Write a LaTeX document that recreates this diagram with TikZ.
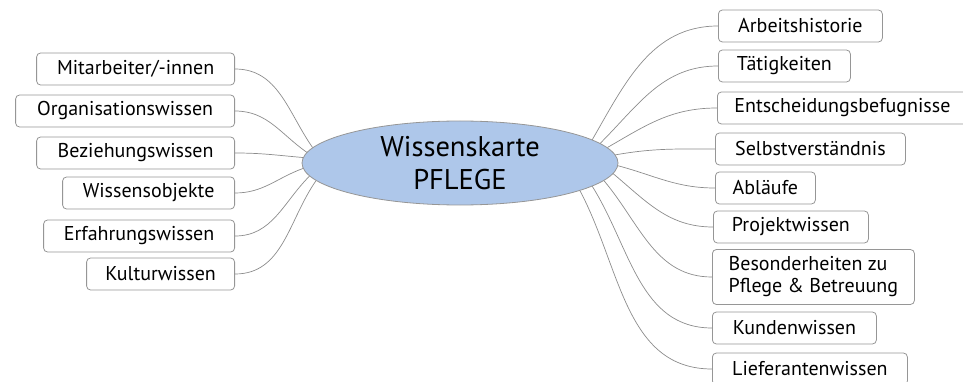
\documentclass[tikz,border=0pt]{standalone}
\usepackage{fontspec}
\setmainfont{PT Sans}
\usetikzlibrary{shapes.geometric}
\definecolor{kartenblau}{RGB}{174,199,234}
\definecolor{randgrau}{RGB}{150,150,150}
\definecolor{astgrau}{RGB}{140,140,140}
\tikzset{
  leaf/.style={draw=randgrau, line width=0.8pt, rounded corners=4pt,
    fill=white, minimum height=32pt, minimum width=#1, inner sep=2pt,
    font=\fontsize{20}{22}\selectfont},
  ast/.style={draw=astgrau, line width=0.7pt},
}

\begin{document}
\begin{tikzpicture}[x=1pt,y=1pt]
\useasboundingbox (0,0) rectangle (963,-382);
% Mitte
\node[ellipse, draw=randgrau, line width=0.8pt, fill=kartenblau,
  minimum width=316pt, minimum height=84pt, inner sep=0pt, align=center,
  font=\fontsize{28.5}{33}\selectfont] (karte) at (460,-163)
  {Wissenskarte\\PFLEGE};
% links
\node[leaf=198pt, anchor=east] (mitarb) at (235,-69) {Mitarbeiter/-innen};
\node[leaf=219pt, anchor=east] (orga) at (235,-111) {Organisationswissen};
\node[leaf=198pt, anchor=east] (bezieh) at (235,-153) {Beziehungswissen};
\node[leaf=172pt, anchor=east] (objekte) at (235,-193) {Wissensobjekte};
\node[leaf=191pt, anchor=east] (erfahr) at (235,-236) {Erfahrungswissen};
\node[leaf=148pt, anchor=east] (kultur) at (235,-274) {Kulturwissen};
% rechts
\node[leaf=164pt, anchor=west] (historie) at (718,-26) {Arbeitshistorie};
\node[leaf=132pt, anchor=west] (taetig) at (718,-66) {Tätigkeiten};
\node[leaf=250pt, anchor=west] (befugnis) at (717,-108) {Entscheidungsbefugnisse};
\node[leaf=190pt, anchor=west] (selbst) at (715,-149) {Selbstverständnis};
\node[leaf=100pt, anchor=west] (ablauf) at (715,-188) {Abläufe};
\node[leaf=155pt, anchor=west] (projekt) at (713,-227) {Projektwissen};
\node[leaf=202pt, anchor=west, minimum height=55pt, align=left]
  (besonder) at (712,-277) {Besonderheiten zu\\Pflege \& Betreuung};
\node[leaf=164pt, anchor=west] (kunden) at (712,-328) {Kundenwissen};
\node[leaf=195pt, anchor=west] (liefer) at (712,-369) {Lieferantenwissen};
% Aeste links
\draw[ast] (karte.174) to[out=125,in=0] (mitarb.east);
\draw[ast] (karte.176) to[out=145,in=0] (orga.east);
\draw[ast] (karte.178) to[out=175,in=0] (bezieh.east);
\draw[ast] (karte.182) to[out=200,in=0] (objekte.east);
\draw[ast] (karte.185) to[out=225,in=0] (erfahr.east);
\draw[ast] (karte.187) to[out=235,in=0] (kultur.east);
% Aeste rechts
\draw[ast] (karte.10) to[out=60,in=180] (historie.west);
\draw[ast] (karte.8) to[out=45,in=180] (taetig.west);
\draw[ast] (karte.6) to[out=30,in=180] (befugnis.west);
\draw[ast] (karte.3) to[out=10,in=180] (selbst.west);
\draw[ast] (karte.-1) to[out=-15,in=180] (ablauf.west);
\draw[ast] (karte.-4) to[out=-40,in=180] (projekt.west);
\draw[ast] (karte.-7) to[out=-50,in=180] (besonder.west);
\draw[ast] (karte.-10) to[out=-58,in=180] (kunden.west);
\draw[ast] (karte.-13) to[out=-62,in=180] (liefer.west);
\end{tikzpicture}
\end{document}
